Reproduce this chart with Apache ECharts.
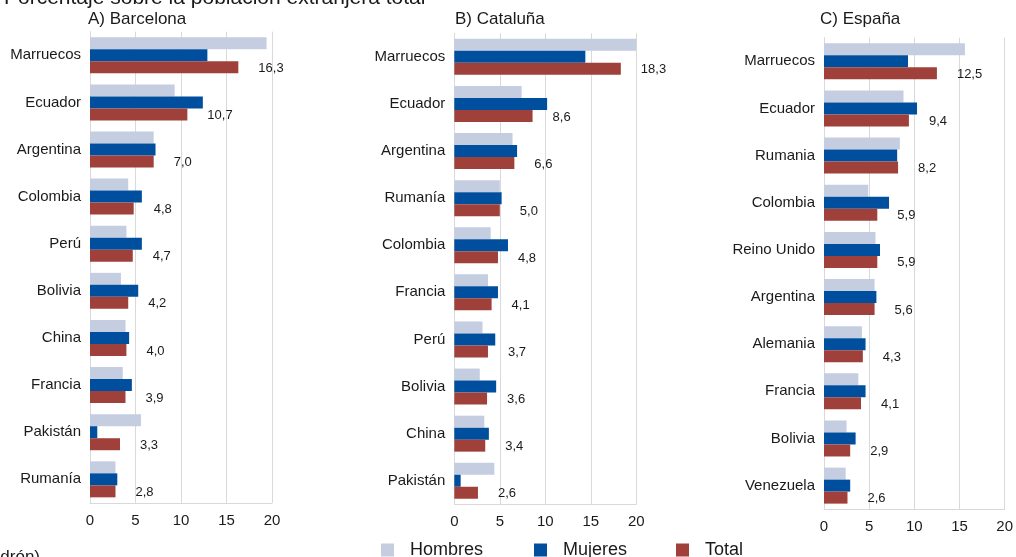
<!DOCTYPE html>
<html>
<head>
<meta charset="utf-8">
<script src="https://cdn.jsdelivr.net/npm/echarts@6/dist/echarts.min.js"></script>
<style>html,body{margin:0;padding:0;background:#fff;}#c{width:1016px;height:557px;}</style>
</head>
<body>
<div id="c"></div>
<script>
// ---- Data ----
const seriesNames = ['Hombres', 'Mujeres', 'Total'];
const xTicks = [0, 5, 10, 15, 20];

const catsA = ['Marruecos', 'Ecuador', 'Argentina', 'Colombia', 'Perú', 'Bolivia', 'China', 'Francia', 'Pakistán', 'Rumanía'];
const hombresA = [19.4, 9.3, 7.0, 4.2, 4.0, 3.4, 3.9, 3.6, 5.6, 2.8];
const mujeresA = [12.9, 12.4, 7.2, 5.7, 5.7, 5.3, 4.3, 4.6, 0.8, 3.0];
const totalA = [16.3, 10.7, 7.0, 4.8, 4.7, 4.2, 4.0, 3.9, 3.3, 2.8];

const catsB = ['Marruecos', 'Ecuador', 'Argentina', 'Rumanía', 'Colombia', 'Francia', 'Perú', 'Bolivia', 'China', 'Pakistán'];
const hombresB = [20.0, 7.4, 6.4, 5.0, 4.0, 3.7, 3.1, 2.8, 3.3, 4.4];
const mujeresB = [14.4, 10.2, 6.9, 5.2, 5.9, 4.8, 4.5, 4.6, 3.8, 0.7];
const totalB = [18.3, 8.6, 6.6, 5.0, 4.8, 4.1, 3.7, 3.6, 3.4, 2.6];

const catsC = ['Marruecos', 'Ecuador', 'Rumania', 'Colombia', 'Reino Unido', 'Argentina', 'Alemania', 'Francia', 'Bolivia', 'Venezuela'];
const hombresC = [15.6, 8.8, 8.4, 4.9, 5.7, 5.6, 4.2, 3.8, 2.5, 2.4];
const mujeresC = [9.3, 10.3, 8.1, 7.2, 6.2, 5.8, 4.6, 4.6, 3.5, 2.9];
const totalC = [12.5, 9.4, 8.2, 5.9, 5.9, 5.6, 4.3, 4.1, 2.9, 2.6];

const panelTitles = ['A) Barcelona', 'B) Cataluña', 'C) España'];
const mainTitle = 'Porcentaje sobre la población extranjera total';
const sourceText = '(Padrón)';

// ---- Layout ----
const panels = [
  { cats: catsA, h: hombresA, m: mujeresA, t: totalA, left: 90, top: 31.7, height: 471.2 },
  { cats: catsB, h: hombresB, m: mujeresB, t: totalB, left: 454.3, top: 33.3, height: 471 },
  { cats: catsC, h: hombresC, m: mujeresC, t: totalC, left: 824, top: 37.7, height: 471.5 }
];
const colors = ['#c5cde0', '#004f9e', '#a0403a'];
const FONT = '"Liberation Sans", Arial, sans-serif';
const gridColor = '#d9d9d9';
const textColor = '#1a1a1a';

const grid = [], xAxis = [], yAxis = [], series = [];
panels.forEach((p, i) => {
  grid.push({ left: p.left, top: p.top, width: 182, height: p.height });
  xAxis.push({
    type: 'value', gridIndex: i, min: xTicks[0], max: xTicks[xTicks.length - 1], interval: 5,
    axisLine: { show: true, lineStyle: { color: gridColor } },
    axisTick: { show: false },
    splitLine: { show: true, lineStyle: { color: gridColor, width: 1 } },
    axisLabel: { color: textColor, fontSize: 15, fontFamily: FONT, margin: 10 }
  });
  yAxis.push({
    type: 'category', gridIndex: i, data: p.cats, inverse: true,
    axisLine: { show: true, lineStyle: { color: gridColor } },
    axisTick: { show: false },
    axisLabel: { color: textColor, fontSize: 15, fontFamily: FONT, margin: 9 }
  });
  [p.h, p.m, p.t].forEach((vals, k) => {
    const s = {
      name: seriesNames[k], type: 'bar', xAxisIndex: i, yAxisIndex: i,
      data: vals, barWidth: 12, barGap: '0%',
      itemStyle: { color: colors[k] },
      silent: true, animation: false
    };
    if (k === 2) {
      s.label = {
        show: true, position: 'right', distance: 20, offset: [0, 1],
        color: textColor, fontSize: 13, fontFamily: FONT,
        formatter: (d) => d.value.toFixed(1).replace('.', ',')
      };
    }
    series.push(s);
  });
});

const legendLefts = [381, 534, 676];
const legend = seriesNames.map((n, k) => ({
  data: [n], left: legendLefts[k], top: 541, padding: 0,
  icon: 'rect', itemWidth: 13, itemHeight: 13,
  textStyle: { fontSize: 18, color: textColor, fontFamily: FONT, padding: [0, 0, 0, 11] },
  selectedMode: false
}));

const titleX = [88, 455, 820];
const graphic = [
  { type: 'text', x: 4, y: -2, style: { text: mainTitle, font: '21px ' + FONT, fill: textColor, verticalAlign: 'middle' } },
  { type: 'text', x: 40, y: 557, style: { text: sourceText, font: '17px ' + FONT, fill: textColor, align: 'right', verticalAlign: 'middle' } }
];
panelTitles.forEach((t, i) => {
  graphic.push({ type: 'text', x: titleX[i], y: 19.5, style: { text: t, font: '17px ' + FONT, fill: textColor, verticalAlign: 'middle' } });
});

const chart = echarts.init(document.getElementById('c'), null, { renderer: 'canvas' });
chart.setOption({
  animation: false,
  backgroundColor: '#ffffff',
  grid, xAxis, yAxis, series, legend, graphic
});
</script>
</body>
</html>
